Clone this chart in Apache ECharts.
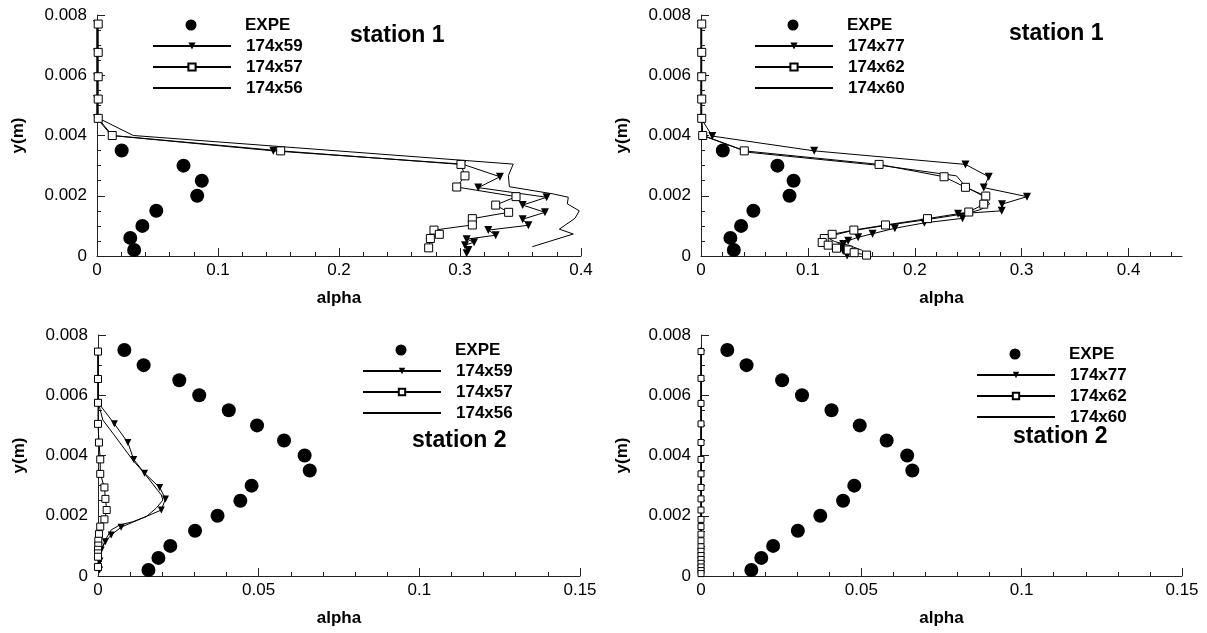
<!DOCTYPE html>
<html><head><meta charset="utf-8">
<script src="https://cdn.jsdelivr.net/npm/echarts@6/dist/echarts.min.js"></script>
<style>html,body{margin:0;padding:0;background:#fff}#c{width:1207px;height:633px}</style>
</head><body><div id="c"></div>
<script>
const FONT = '"Liberation Sans", Arial, Helvetica, sans-serif';

// ---- tick labels ----
const yTicks = [0, 0.002, 0.004, 0.006, 0.008];
const xTicksP1 = [0, 0.1, 0.2, 0.3, 0.4];
const xTicksP2 = [0, 0.1, 0.2, 0.3, 0.4];
const xTicksP3 = [0, 0.05, 0.1, 0.15];
const xTicksP4 = [0, 0.05, 0.1, 0.15];

// ---- categories / names ----
const namesA = ['EXPE', '174x59', '174x57', '174x56'];
const namesB = ['EXPE', '174x77', '174x62', '174x60'];
const titles = ['station 1', 'station 1', 'station 2', 'station 2'];

// ---- data: [alpha, y(m)] ----
const expeS1 = [[0.0204,0.0035],[0.0715,0.003],[0.0866,0.0025],[0.0828,0.002],[0.049,0.0015],[0.0375,0.001],[0.0275,0.0006],[0.0307,0.0002]];

const p1_174x59 = [[0,0.0077],[0,0.00676],[0,0.00595],[0,0.00521],[0,0.00457],[0.012,0.004],[0.1457,0.00349],[0.302,0.00305],[0.333,0.00263],[0.3151,0.00227],[0.3716,0.00195],[0.3518,0.00169],[0.3702,0.00145],[0.3518,0.00122],[0.3565,0.00102],[0.3234,0.00086],[0.3295,0.00069],[0.3055,0.00056],[0.3116,0.00046],[0.3041,0.00036],[0.3069,0.0002],[0.3055,0.00009]];
const p1_174x57 = [[0.001,0.0077],[0.001,0.00676],[0.001,0.00595],[0.001,0.00521],[0.001,0.00457],[0.0126,0.004],[0.1518,0.00349],[0.3008,0.00304],[0.3041,0.00266],[0.2973,0.00229],[0.3463,0.00197],[0.3295,0.00169],[0.3402,0.00145],[0.3102,0.00124],[0.3102,0.00103],[0.2785,0.00086],[0.2829,0.00072],[0.2755,0.00058],[0.2741,0.00027]];
const p1_174x56 = [[0,0.0077],[0,0.0046],[0.03,0.004],[0.344,0.00305],[0.340,0.00267],[0.3408,0.0023],[0.3771,0.00206],[0.3895,0.00195],[0.3887,0.00173],[0.3986,0.0015],[0.395,0.00125],[0.3821,0.00089],[0.3936,0.00073],[0.3598,0.00031]];

const p2_174x77 = [[0,0.0077],[0,0.00676],[0,0.00595],[0,0.00521],[0,0.00457],[0.0106,0.00398],[0.1059,0.00349],[0.2474,0.00304],[0.2692,0.00263],[0.2645,0.00227],[0.305,0.00197],[0.2816,0.00172],[0.2813,0.0015],[0.2405,0.0014],[0.2447,0.00125],[0.209,0.0011],[0.1813,0.00092],[0.1605,0.00074],[0.147,0.00062],[0.1377,0.00051],[0.133,0.0004],[0.1315,0.00029],[0.133,0.00017],[0.1367,0.00002]];
const p2_174x62 = [[0.0007,0.0077],[0.0007,0.00676],[0.0007,0.00595],[0.0007,0.00521],[0.0007,0.00457],[0.0016,0.004],[0.0405,0.00349],[0.1666,0.00304],[0.2274,0.00263],[0.2474,0.00228],[0.2664,0.00199],[0.2645,0.00172],[0.2505,0.00146],[0.2119,0.00124],[0.1726,0.00103],[0.143,0.00086],[0.1227,0.00072],[0.1153,0.00058],[0.1134,0.00045],[0.119,0.00036],[0.1268,0.00026],[0.1377,0.0002],[0.1433,0.00011],[0.1549,0.00003]];
const p2_174x60 = [[0,0.0077],[0,0.0046],[0.002,0.004],[0.045,0.00344],[0.172,0.00299],[0.239,0.00266],[0.2477,0.0023],[0.2639,0.00199],[0.2701,0.00173],[0.2623,0.00155],[0.2498,0.00142],[0.21,0.0012],[0.17,0.001],[0.14,0.00083],[0.125,0.0007],[0.12,0.00058],[0.125,0.00048],[0.1377,0.00036],[0.15,0.0002],[0.156,0.00002]];

const expeS2 = [[0.0082,0.0075],[0.0142,0.007],[0.0253,0.0065],[0.0315,0.006],[0.0407,0.0055],[0.0495,0.005],[0.0579,0.0045],[0.0643,0.004],[0.0659,0.0035],[0.0478,0.003],[0.0443,0.0025],[0.0372,0.002],[0.0302,0.0015],[0.0225,0.001],[0.0188,0.0006],[0.0157,0.0002]];

const p3_174x59 = [[0,0.00745],[0,0.00654],[0,0.00576],[0.0051,0.00505],[0.0093,0.00443],[0.0111,0.00387],[0.0145,0.00341],[0.0192,0.00294],[0.021,0.00256],[0.0197,0.00219],[0.0072,0.00162],[0.0041,0.00136],[0.0023,0.00114],[0.001,0.00086],[0.0006,0.0005],[0.0005,0.0002]];
const p3_174x57 = [[0,0.00745],[0,0.00654],[0,0.00575],[0,0.00505],[0.0003,0.00443],[0.0007,0.00387],[0.0007,0.00339],[0.002,0.00294],[0.0023,0.00256],[0.0027,0.00219],[0.002,0.00188],[0.0007,0.00164],[0.0003,0.00139],[0.0001,0.00117],[0.0001,0.00101],[0,0.00087],[0,0.00075],[0,0.00064],[0,0.0003]];
const p3_174x56 = [[0,0.00745],[0,0.0058],[0.0015,0.00518],[0.0046,0.00474],[0.0108,0.00385],[0.0145,0.0034],[0.0197,0.00269],[0.0202,0.00252],[0.0181,0.00225],[0.015,0.00197],[0.0108,0.0018],[0.0067,0.00169],[0.0041,0.00153],[0.0023,0.0012],[0.001,0.00086],[0.0003,0.0003]];

const p4_174x77 = [[0,0.00745],[0,0.00573],[0,0.00443],[0,0.00339],[0,0.00256],[0,0.00188],[0,0.00139],[0,0.00097],[0,0.00055],[0,0.00018]];
const p4_174x62 = [[0,0.00745],[0,0.00656],[0,0.00573],[0,0.00505],[0,0.00443],[0,0.00387],[0,0.00339],[0,0.00294],[0,0.00256],[0,0.00219],[0,0.00188],[0,0.00164],[0,0.00139],[0,0.00117],[0,0.00097],[0,0.00082],[0,0.00068],[0,0.00055],[0,0.00042],[0,0.0003],[0,0.00018],[0,0.00008]];
const p4_174x60 = [[0,0.0076],[0,0.0001]];

// ---- helpers ----
function steps(max, step) {
  const out = [];
  const n = Math.round(max / step);
  for (let i = 0; i <= n; i++) out.push(+(i * step).toFixed(6));
  return out;
}
function fmt(v) { return String(+(+v).toFixed(6)); }

const AX = '#222';
const grids = [
  { left: 97, top: 15, width: 484, height: 241 },
  { left: 701, top: 15, width: 481, height: 241 },
  { left: 98, top: 335, width: 482, height: 241 },
  { left: 701, top: 335, width: 481, height: 241 }
];
const xMax = [0.4, 0.45, 0.15, 0.15];
const xMinorMax = [0.4, 0.44, 0.15, 0.15];
const xMajors = [xTicksP1, xTicksP2, xTicksP3, xTicksP4];
const xMinorStep = [0.02, 0.02, 0.01, 0.01];

const xAxis = [], yAxis = [];
for (let g = 0; g < 4; g++) {
  xAxis.push({
    type: 'value', gridIndex: g, min: 0, max: xMax[g], position: 'bottom',
    axisLine: { show: true, onZero: false, lineStyle: { color: AX, width: 1 } },
    axisTick: { show: true, inside: true, length: 8, customValues: xMajors[g], lineStyle: { color: AX } },
    axisLabel: { customValues: xMajors[g], color: '#000', fontSize: 17, fontFamily: FONT, margin: 6, formatter: fmt },
    splitLine: { show: false },
    name: 'alpha', nameLocation: 'middle', nameGap: 34,
    nameTextStyle: { fontWeight: 'bold', fontSize: 17, color: '#000', fontFamily: FONT }
  });
  xAxis.push({
    type: 'value', gridIndex: g, min: 0, max: xMax[g], position: 'bottom',
    axisLine: { show: false },
    axisTick: { show: true, inside: true, length: 4, customValues: steps(xMinorMax[g], xMinorStep[g]), lineStyle: { color: AX } },
    axisLabel: { show: false }, splitLine: { show: false }
  });
  yAxis.push({
    type: 'value', gridIndex: g, min: 0, max: 0.008, position: 'left',
    axisLine: { show: true, onZero: false, lineStyle: { color: AX, width: 1 } },
    axisTick: { show: true, inside: true, length: 8, customValues: yTicks, lineStyle: { color: AX } },
    axisLabel: { customValues: yTicks, color: '#000', fontSize: 17, fontFamily: FONT, margin: 10, formatter: fmt },
    splitLine: { show: false },
    name: 'y(m)', nameLocation: 'middle', nameGap: 70, nameRotate: 90,
    nameTextStyle: { fontWeight: 'bold', fontSize: 17, color: '#000', fontFamily: FONT }
  });
  yAxis.push({
    type: 'value', gridIndex: g, min: 0, max: 0.008, position: 'left',
    axisLine: { show: false },
    axisTick: { show: true, inside: true, length: 4, customValues: steps(0.008, 0.0005), lineStyle: { color: AX } },
    axisLabel: { show: false }, splitLine: { show: false }
  });
}

function scat(name, data, g, size) {
  return { type: 'scatter', name, data, xAxisIndex: 2 * g, yAxisIndex: 2 * g,
    symbol: 'circle', symbolSize: size, itemStyle: { color: '#000', opacity: 1 }, silent: true };
}
function tri(name, data, g, size) {
  return { type: 'line', name, data, xAxisIndex: 2 * g, yAxisIndex: 2 * g,
    symbol: 'triangle', symbolRotate: 180, symbolSize: size, showAllSymbol: true,
    lineStyle: { color: '#000', width: 1 }, itemStyle: { color: '#000' }, silent: true };
}
function sq(name, data, g, size) {
  return { type: 'line', name, data, xAxisIndex: 2 * g, yAxisIndex: 2 * g,
    symbol: 'rect', symbolSize: size, showAllSymbol: true,
    lineStyle: { color: '#000', width: 1 }, itemStyle: { color: '#fff', borderColor: '#000', borderWidth: 1 }, silent: true };
}
function plain(name, data, g) {
  return { type: 'line', name, data, xAxisIndex: 2 * g, yAxisIndex: 2 * g,
    symbol: 'none', lineStyle: { color: '#000', width: 1 }, itemStyle: { color: '#000' }, silent: true };
}

const series = [
  scat(namesA[0], expeS1, 0, 14), tri(namesA[1], p1_174x59, 0, 8), sq(namesA[2], p1_174x57, 0, 8), plain(namesA[3], p1_174x56, 0),
  scat(namesB[0], expeS1, 1, 14), tri(namesB[1], p2_174x77, 1, 8), sq(namesB[2], p2_174x62, 1, 8), plain(namesB[3], p2_174x60, 1),
  scat(namesA[0], expeS2, 2, 14), tri(namesA[1], p3_174x59, 2, 7), sq(namesA[2], p3_174x57, 2, 7), plain(namesA[3], p3_174x56, 2),
  scat(namesB[0], expeS2, 3, 14), tri(namesB[1], p4_174x77, 3, 6), sq(namesB[2], p4_174x62, 3, 6), plain(namesB[3], p4_174x60, 3)
];

const legPos = [
  { left: 152, row: 25, sym: 9 },
  { left: 754, row: 25, sym: 9 },
  { left: 362, row: 350, sym: 8 },
  { left: 976, row: 354, sym: 8 }
];
const legText = { color: '#000', fontSize: 17, fontWeight: 'bold', fontFamily: FONT, lineHeight: 21, padding: [0, 0, 0, 10] };
const legend = [];
for (let g = 0; g < 4; g++) {
  const names = (g % 2 === 0) ? namesA : namesB;
  const p = legPos[g];
  // the circle icon's box starts at its own edge, so shift by (itemWidth - itemHeight) / 2
  legend.push({
    orient: 'vertical', left: p.left + 33.5, top: p.row - 10.5, padding: 0, itemGap: 0,
    itemWidth: 78, itemHeight: 11, selectedMode: false, textStyle: legText,
    data: [{ name: names[0], icon: 'circle', itemStyle: { color: '#000', opacity: 1 } }]
  });
  legend.push({
    orient: 'vertical', left: p.left, top: p.row + 21 - 10.5, padding: 0, itemGap: 0,
    itemWidth: 78, itemHeight: p.sym, selectedMode: false, textStyle: legText,
    data: [names[1], names[2], { name: names[3], itemStyle: { color: 'rgba(0,0,0,0)', borderColor: 'rgba(0,0,0,0)', borderWidth: 0 } }]
  });
}

const titlePos = [[350, 24], [1009, 22], [412, 429], [1013, 425]];
const title = titles.map((t, i) => ({
  text: t, left: titlePos[i][0], top: titlePos[i][1], padding: 0,
  textStyle: { fontSize: 23, fontWeight: 'bold', color: '#000', fontFamily: FONT }
}));

const chart = echarts.init(document.getElementById('c'), null, { renderer: 'canvas' });
chart.setOption({
  animation: false,
  backgroundColor: '#fff',
  title, legend, grid: grids, xAxis, yAxis, series
});
</script>
</body></html>
